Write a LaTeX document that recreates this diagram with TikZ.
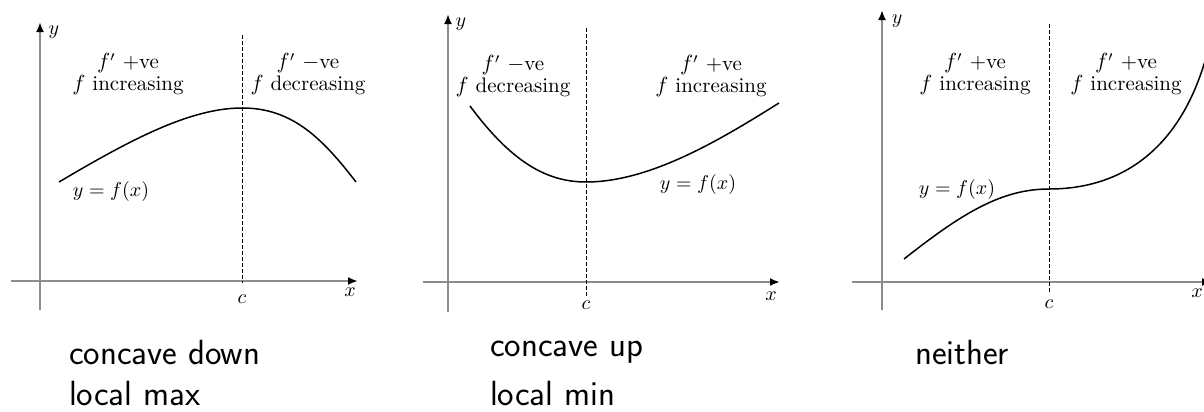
\documentclass[tikz,border=0pt]{standalone}
\usepackage{amsmath}
\usepackage{tikz}
\usetikzlibrary{arrows.meta}
\tikzstyle{axis} = [draw=gray!90, line width=1pt, -{Latex[black, length=5pt, width=4pt]}]
\tikzstyle{guide} = [dashed, dash pattern=on 1.8pt off 1.2pt, line width=0.5pt]
\tikzstyle{graph} = [line width=0.75pt]
\tikzstyle{sign} = [align=center, font=\fontsize{10.5}{9.5}\selectfont]
\tikzstyle{hand} = [anchor=west, font=\sffamily\fontsize{17.5}{20}\selectfont]

\begin{document}
\begin{tikzpicture}[x=0.5pt, y=-0.5pt]
    \useasboundingbox (0,0) rectangle (1204,412);

    % concave down / local max
    \draw [axis] (40,310) -- (40,22);
    \draw [axis] (11,281) -- (358,281);
    \draw [guide] (242,35) -- (242,283);
    \draw [graph] (59,182) .. controls (130,140) and (190,108) .. (242,108)
                  .. controls (290,108) and (320,135) .. (356,182);
    \node (yA) at (54,32) {$y$};
    \node (xA) at (350,292) {$x$};
    \node (cA) at (242,299) {$c$};
    \node (incA) [sign] at (128,74) {$f'$ +ve\\$f$ increasing};
    \node (decA) [sign] at (308,74) {$f'$ $-$ve\\$f$ decreasing};
    \node (fA) at (111,191) {$y=f(x)$};
    \node (noteA1) [hand] at (62,352) {concave down};
    \node (noteA2) [hand] at (62,393) {local max};

    % concave up / local min
    \draw [axis] (448,312) -- (448,14);
    \draw [axis] (423,282) -- (780,282);
    \draw [guide] (586,28) -- (586,296);
    \draw [graph] (470,106) .. controls (510,160) and (545,182) .. (586,182)
                  .. controls (650,182) and (720,140) .. (779,103);
    \node (yB) at (461,24) {$y$};
    \node (xB) at (771,296) {$x$};
    \node (cB) at (586,305) {$c$};
    \node (decB) [sign] at (513,76) {$f'$ $-$ve\\$f$ decreasing};
    \node (incB) [sign] at (711,76) {$f'$ +ve\\$f$ increasing};
    \node (fB) at (698,184) {$y=f(x)$};
    \node (noteB1) [hand] at (483,352) {concave up};
    \node (noteB2) [hand] at (483,393) {local min};

    % neither
    \draw [axis] (882,310) -- (882,10);
    \draw [axis] (852,282) -- (1212,282);
    \draw [guide] (1049,24) -- (1049,294);
    \draw [graph] (904,259) .. controls (960,215) and (1000,189) .. (1049,189)
                  .. controls (1130,189) and (1185,140) .. (1208,50);
    \node (yC) at (897,21) {$y$};
    \node (xC) at (1197,293) {$x$};
    \node (cC) at (1049,304) {$c$};
    \node (incC1) [sign] at (975,74) {$f'$ +ve\\$f$ increasing};
    \node (incC2) [sign] at (1126,74) {$f'$ +ve\\$f$ increasing};
    \node (fC) at (957,189) {$y=f(x)$};
    \node (noteC) [hand] at (908,352) {neither};
\end{tikzpicture}
\end{document}
